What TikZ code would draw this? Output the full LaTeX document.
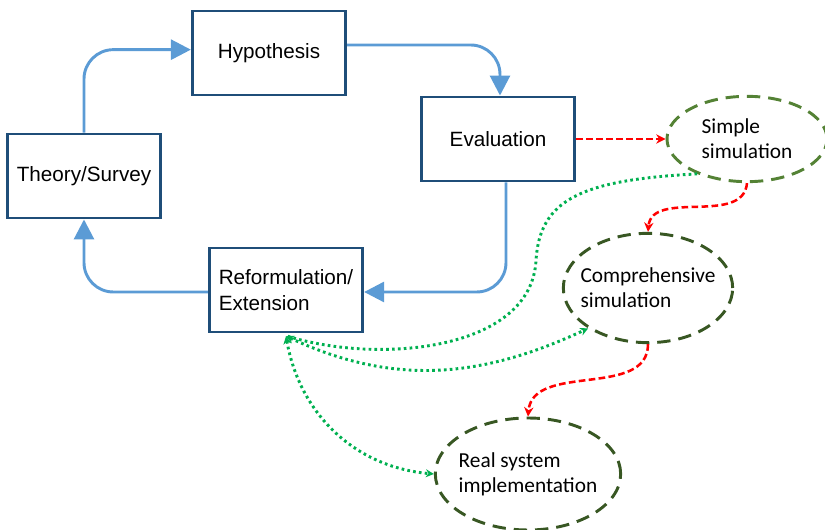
\documentclass[tikz,border=0pt]{standalone}
\usepackage{fontspec}
\setmainfont{Liberation Sans}
\newfontfamily\calibri{Carlito}
\usetikzlibrary{arrows.meta,shapes.geometric}
\definecolor{boxblue}{RGB}{31,78,121}
\definecolor{linkblue}{RGB}{91,155,213}
\definecolor{simgreen}{RGB}{84,130,53}
\definecolor{darkgreen}{RGB}{56,87,35}
\definecolor{dotgreen}{RGB}{0,176,80}
\begin{document}
\begin{tikzpicture}[x=0.75pt, y=-0.75pt,
    stage/.style={rectangle, draw=boxblue, line width=2.2pt, minimum width=115pt, minimum height=63pt, inner sep=0pt, font=\fontsize{15.5}{19}\selectfont, align=left},
    sim/.style={ellipse, draw, dash pattern=on 10pt off 6pt, line width=2.2pt, inner sep=0pt, font=\calibri\fontsize{16}{19}\selectfont, align=left},
    loop/.style={draw=linkblue, line width=2.2pt, rounded corners=22pt, -{Triangle[length=15pt, width=15pt]}},
    next/.style={draw=red, line width=1.9pt, dash pattern=on 5pt off 2.5pt, -{Stealth[length=7pt, width=7pt]}},
    feedback/.style={draw=dotgreen, line width=2.2pt, dash pattern=on 2pt off 2.4pt, {Stealth[length=6pt, width=6pt]}-{Stealth[length=6pt, width=6pt]}}
]
    \useasboundingbox (0,0) rectangle (825,530);

    % Research cycle
    \node[stage] (hyp) at (269, 53) {Hypothesis};
    \node[stage] (eval) at (498, 139) {Evaluation};
    \node[stage] (theory) at (84, 176) {Theory/Survey};
    \node[stage] (ref) at (286, 290) {Reformulation/\\Extension};

    % Simulations
    \node[sim, draw=simgreen, minimum width=120pt, minimum height=64pt] (simple) at (747, 139) {Simple\\simulation};
    \node[sim, draw=darkgreen, inner xsep=-6.5pt, minimum width=127pt, minimum height=82pt] (comp) at (648, 288) {Comprehensive\\simulation};
    \node[sim, draw=darkgreen, inner xsep=-4pt, minimum width=139pt, minimum height=84pt] (real) at (528, 474) {Real system\\implementation};

    % Cycle arrows
    \draw[loop] (theory.north) |- ([yshift=2.5pt]hyp.west);
    \draw[loop] ([yshift=6pt]hyp.east) -| ([xshift=1.5pt]eval.north);
    \draw[loop] ([xshift=6pt]eval.south) |- ([yshift=-1.5pt]ref.east);
    \draw[loop] ([yshift=-1.5pt]ref.west) -| (theory.south);

    % Next steps
    \draw[next] (eval.east) -- (simple.west);
    \draw[next] (simple.south) to[out=-95, in=85] (comp.north);
    \draw[next] (comp.south) to[out=-90, in=85] (real.north);

    % Feedback
    \draw[feedback, {-}] (simple.215) .. controls (580,180) and (540,200) .. (536,260)
        .. controls (532,350) and (380,365) .. ([xshift=1pt,yshift=-2pt]ref.south);
    \draw[feedback] ([yshift=-2pt]ref.south) to[out=-25, in=205] (comp.214);
    \draw[feedback] ([yshift=-2pt]ref.south) to[out=-80, in=175] (real.west);
\end{tikzpicture}
\end{document}
